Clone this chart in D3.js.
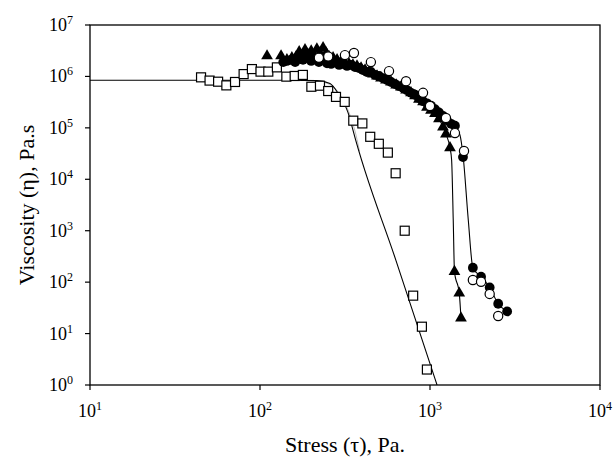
<!DOCTYPE html>
<html>
<head>
<meta charset="utf-8">
<script src="https://cdn.jsdelivr.net/npm/d3@7"></script>
<style>
  body { margin: 0; background: #fff; }
  text { font-family: "Liberation Serif", "Times New Roman", serif; fill: #000; }
</style>
</head>
<body>
<div id="chart-area"></div>
<script>
// open squares
var squareStress = [45, 50.5, 56.7, 63.4, 71.3, 80.1, 89.6, 100.7, 111.9, 125.7, 142.9, 159.9, 178.7,
  200.5, 225.3, 251.8, 279.9, 315, 353.7, 400, 445, 500, 565, 628, 710, 796, 896, 959];
var squareVisc = [9.6e5, 8.3e5, 7.9e5, 6.7e5, 7.8e5, 1.11e6, 1.39e6, 1.24e6, 1.24e6, 1.5e6, 9.9e5, 1.02e6, 1.07e6,
  6.3e5, 6.6e5, 5.2e5, 4.0e5, 3.2e5, 1.38e5, 1.22e5, 6.7e4, 4.9e4, 3.3e4, 1.31e4, 1.0e3, 54.6, 13.6, 2.0];

// filled triangles
var triStress = [110, 133, 144, 154, 163, 170, 177, 184, 191, 200, 208, 216, 225, 235, 245, 255, 269, 284, 299,
  316, 334, 352, 372, 393, 415, 438, 462, 488, 515, 551, 590, 632, 675, 723, 773, 816, 861, 910, 960, 1014,
  1070, 1129, 1192, 1241, 1311, 1393, 1486, 1521];
var triVisc = [2.5e6, 2.5e6, 2.1e6, 2.3e6, 2.4e6, 3.0e6, 2.6e6, 3.3e6, 2.7e6, 3.1e6, 2.6e6, 3.4e6, 2.85e6, 3.6e6,
  2.85e6, 2.4e6, 2.3e6, 2.1e6, 1.9e6, 1.8e6, 1.75e6, 1.67e6, 1.6e6, 1.46e6, 1.33e6, 1.22e6, 1.11e6, 1.02e6,
  9.3e5, 8.5e5, 7.8e5, 6.8e5, 6.2e5, 5.4e5, 4.8e5, 4.2e5, 3.6e5, 3.2e5, 2.5e5, 2.2e5, 1.9e5, 1.5e5, 1.04e5,
  7.6e4, 4.1e4, 160, 61, 20];

// filled circles
var dotStress = [137, 144, 152, 161, 170, 179, 189, 200, 211, 222, 235, 248, 262, 276, 292, 308, 325, 343, 362,
  382, 403, 426, 449, 475, 501, 529, 559, 590, 623, 657, 694, 733, 773, 816, 861, 910, 960, 1014, 1070, 1129,
  1192, 1258, 1330, 1402, 1563, 1787, 1997, 2244, 2518, 2843];
var dotVisc = [1.9e6, 2.0e6, 2.1e6, 1.9e6, 2.2e6, 2.1e6, 2.3e6, 2.0e6, 2.2e6, 1.9e6, 2.1e6, 1.8e6, 1.75e6, 1.9e6,
  1.67e6, 1.75e6, 1.6e6, 1.67e6, 1.52e6, 1.46e6, 1.33e6, 1.22e6, 1.22e6, 1.07e6, 1.02e6, 9.3e5, 8.5e5, 7.8e5,
  7.1e5, 6.5e5, 6.0e5, 5.4e5, 4.8e5, 4.4e5, 3.8e5, 3.3e5, 3.0e5, 2.7e5, 2.3e5, 2.0e5, 1.7e5, 1.4e5, 1.2e5,
  1.1e5, 2.7e4, 191, 128, 79, 38, 27];

// open circles
var ringStress = [222, 252, 316, 357, 449, 574, 723, 910, 1000, 1241, 1402, 1585, 1787, 1997, 2244, 2518];
var ringVisc = [2.3e6, 2.45e6, 2.6e6, 2.85e6, 1.9e6, 1.27e6, 8.1e5, 4.8e5, 2.66e5, 1.56e5, 7.9e4, 3.55e4,
  110, 102, 59, 22];

// model curves
var fitSqStress = [10, 150, 216, 258, 288, 316, 338, 352, 631, 1100];
var fitSqVisc = [8.4e5, 8.4e5, 8.3e5, 7.3e5, 4.7e5, 2.8e5, 1.53e5, 9.1e4, 262, 1];
var fitSq2Stress = [200, 240, 280, 310, 340, 368, 385];
var fitSq2Visc = [8.3e5, 7.6e5, 5.6e5, 3.4e5, 1.7e5, 7e4, 3.5e4];
var fitTriStress = [1014, 1129, 1241, 1311, 1340, 1370, 1393, 1486, 1521];
var fitTriVisc = [2.2e5, 1.5e5, 7.6e4, 4.1e4, 2.4e4, 1.6e3, 160, 61, 20];
var fitDotStress = [1129, 1258, 1402, 1500, 1563, 1680, 1787, 1997, 2244, 2518, 2843];
var fitDotVisc = [2.0e5, 1.4e5, 1.1e5, 7.3e4, 3.0e4, 1.6e3, 191, 128, 79, 38, 27];

var xTicks = [10, 100, 1000, 10000];
var yTicks = [1, 10, 100, 1e3, 1e4, 1e5, 1e6, 1e7];

var W = 614, H = 459;
var mL = 90, mR = 600, mT = 25, mB = 385;

var svg = d3.select("#chart-area")
  .append("svg")
  .attr("width", W)
  .attr("height", H);

var x = d3.scaleLog().domain([10, 10000]).range([mL, mR]);
var y = d3.scaleLog().domain([1, 1e7]).range([mB, mT]);

var zip = (a, b) => a.map((v, i) => [v, b[i]]);

var plot = svg.append("g");
plot.append("clipPath").attr("id", "clip")
  .append("rect").attr("x", mL).attr("y", mT).attr("width", mR - mL).attr("height", mB - mT);

var line = d3.line()
  .x((d) => x(d[0]))
  .y((d) => y(d[1]))
  .curve(d3.curveMonotoneX);

var lines = plot.append("g").attr("clip-path", "url(#clip)");
lines.append("path").attr("d", line(zip(fitSq2Stress, fitSq2Visc)))
  .attr("fill", "none").attr("stroke", "#aaa").attr("stroke-width", 0.8);
lines.append("path").attr("d", line(zip(fitSqStress, fitSqVisc)))
  .attr("fill", "none").attr("stroke", "#000").attr("stroke-width", 1.1);
lines.append("path").attr("d", line(zip(fitTriStress, fitTriVisc)))
  .attr("fill", "none").attr("stroke", "#000").attr("stroke-width", 1.1);
lines.append("path").attr("d", line(zip(fitDotStress, fitDotVisc)))
  .attr("fill", "none").attr("stroke", "#000").attr("stroke-width", 1.1);

// squares
plot.selectAll("rect.sq")
  .data(zip(squareStress, squareVisc))
  .enter()
  .append("rect")
  .attr("class", "sq")
  .attr("x", (d) => x(d[0]) - 4.5)
  .attr("y", (d) => y(d[1]) - 4.5)
  .attr("width", 9)
  .attr("height", 9)
  .attr("fill", "#fff")
  .attr("stroke", "#000")
  .attr("stroke-width", 1.2);

// triangles
var tri = d3.symbol().type(d3.symbolTriangle).size(60);
plot.selectAll("path.tri")
  .data(zip(triStress, triVisc))
  .enter()
  .append("path")
  .attr("class", "tri")
  .attr("d", tri)
  .attr("transform", (d) => "translate(" + x(d[0]) + "," + y(d[1]) + ")")
  .attr("fill", "#000");

// filled circles
plot.selectAll("circle.dot")
  .data(zip(dotStress, dotVisc))
  .enter()
  .append("circle")
  .attr("class", "dot")
  .attr("cx", (d) => x(d[0]))
  .attr("cy", (d) => y(d[1]))
  .attr("r", 4.9)
  .attr("fill", "#000");

// open circles
plot.selectAll("circle.ring")
  .data(zip(ringStress, ringVisc))
  .enter()
  .append("circle")
  .attr("class", "ring")
  .attr("cx", (d) => x(d[0]))
  .attr("cy", (d) => y(d[1]))
  .attr("r", 4.6)
  .attr("fill", "#fff")
  .attr("stroke", "#000")
  .attr("stroke-width", 1.2);

// frame
svg.append("rect")
  .attr("x", mL).attr("y", mT)
  .attr("width", mR - mL).attr("height", mB - mT)
  .attr("fill", "none").attr("stroke", "#000").attr("stroke-width", 1.3);

// ticks
svg.selectAll("line.xt").data(xTicks).enter().append("line")
  .attr("x1", (d) => x(d)).attr("x2", (d) => x(d))
  .attr("y1", mB).attr("y2", mB + 5)
  .attr("stroke", "#000").attr("stroke-width", 1.2);
svg.selectAll("line.yt").data(yTicks).enter().append("line")
  .attr("x1", mL - 5).attr("x2", mL)
  .attr("y1", (d) => y(d)).attr("y2", (d) => y(d))
  .attr("stroke", "#000").attr("stroke-width", 1.2);

function powLabel(sel) {
  sel.append("tspan").text("10");
  sel.append("tspan")
    .attr("dy", -7)
    .attr("font-size", 12)
    .text((d) => Math.round(Math.log10(d)));
}

svg.selectAll("text.xl").data(xTicks).enter().append("text")
  .attr("class", "xl")
  .attr("x", (d) => x(d))
  .attr("y", 417)
  .attr("text-anchor", "middle")
  .attr("font-size", 18)
  .call(powLabel);

svg.selectAll("text.yl").data(yTicks).enter().append("text")
  .attr("class", "yl")
  .attr("x", 73)
  .attr("y", (d) => y(d) + 6)
  .attr("text-anchor", "end")
  .attr("font-size", 18)
  .call(powLabel);

svg.append("text")
  .attr("x", (mL + mR) / 2)
  .attr("y", 452)
  .attr("text-anchor", "middle")
  .attr("font-size", 22)
  .text("Stress (τ), Pa.");

svg.append("text")
  .attr("transform", "translate(34," + (mT + mB) / 2 + ") rotate(-90)")
  .attr("text-anchor", "middle")
  .attr("font-size", 22)
  .text("Viscosity (η), Pa.s");
</script>
</body>
</html>
